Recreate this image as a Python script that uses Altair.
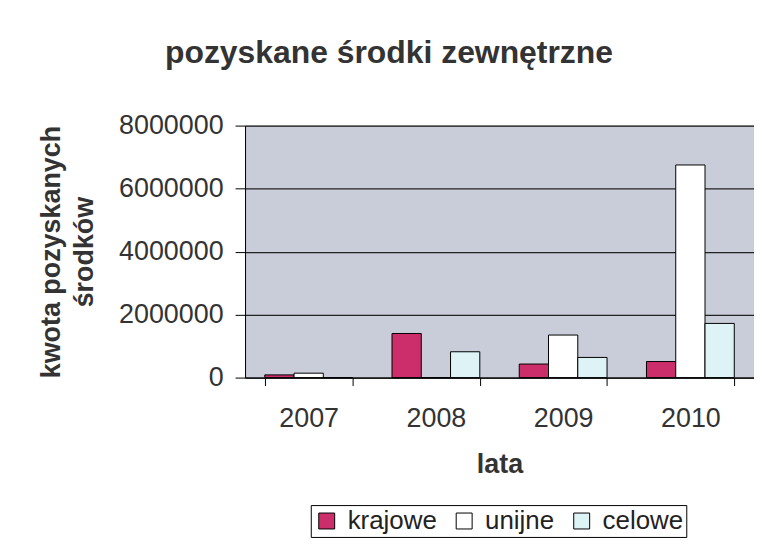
import altair as alt
import pandas as pd

years = ["2007", "2008", "2009", "2010"]
series = ["krajowe", "unijne", "celowe"]
krajowe = [85000, 1400000, 430000, 510000]
unijne = [140000, 0, 1350000, 6750000]
celowe = [0, 820000, 640000, 1720000]
colors = ["#CC2E6C", "#FFFFFF", "#DDF3F6"]
y_ticks = [0, 2000000, 4000000, 6000000, 8000000]

rows = []
for name, vals in zip(series, [krajowe, unijne, celowe]):
    for yr, v in zip(years, vals):
        rows.append({"rok": yr, "rodzaj": name, "kwota": v})
df = pd.DataFrame(rows)

FONT = "Liberation Sans"

chart = alt.Chart(df).mark_bar(stroke="black", strokeWidth=1).encode(
    x=alt.X(
        "rok:N", sort=years,
        scale=alt.Scale(paddingInner=0.31, paddingOuter=0.155),
        axis=alt.Axis(
            title="lata", labelAngle=0, tickBand="extent", grid=False,
            labelFontSize=27, labelColor="#333333", labelFont=FONT,
            tickSize=8, tickColor="black", domainColor="black",
            labelPadding=20,
            titleFontSize=27, titleFont=FONT, titleFontWeight="bold",
            titleColor="#333333", titlePadding=20,
        ),
    ),
    xOffset=alt.XOffset("rodzaj:N", sort=series,
                        scale=alt.Scale(paddingInner=0, paddingOuter=0)),
    y=alt.Y(
        "kwota:Q",
        scale=alt.Scale(domain=[0, 8000000], nice=False),
        axis=alt.Axis(
            values=y_ticks, format="d",
            title=["kwota pozyskanych", "środków"],
            labelFontSize=27, labelColor="#333333", labelFont=FONT,
            tickSize=10, tickColor="black", domainColor="black",
            labelPadding=12,
            gridColor="#222222", gridWidth=1.2,
            titleFontSize=27, titleFont=FONT, titleFontWeight="bold",
            titleColor="#333333", titleLineHeight=33, titlePadding=20,
        ),
    ),
    color=alt.Color(
        "rodzaj:N", sort=series,
        scale=alt.Scale(domain=series, range=colors),
        legend=alt.Legend(
            title=None, orient="none", legendX=66, legendY=381,
            direction="horizontal",
            labelFontSize=26, labelFont=FONT, labelColor="#222222",
            symbolType="square", symbolSize=256,
            symbolStrokeColor="black", symbolStrokeWidth=1,
            strokeColor="black", fillColor="white", padding=3,
            columnPadding=14, labelOffset=8,
        ),
    ),
).properties(
    width=511,
    height=253,
    background="white",
    title=alt.Title(
        "pozyskane środki zewnętrzne",
        fontSize=32, font=FONT, fontWeight="bold", color="#333333",
        anchor="middle", frame="group", dx=-111, offset=42,
    ),
    autosize=alt.AutoSizeParams(type="none"),
    padding={"left": 238, "top": 117, "right": 0, "bottom": 162},
).configure_view(
    fill="#C9CDD9", stroke="#808080", strokeWidth=1,
)

chart.save("out.html", embed_options={"renderer": "svg", "actions": False})
